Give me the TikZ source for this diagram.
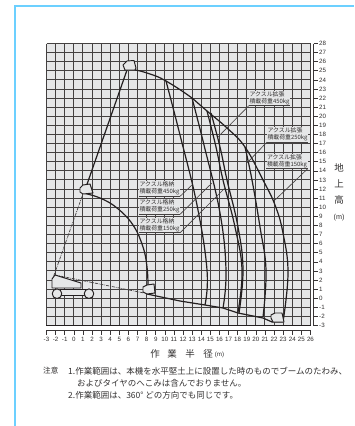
\documentclass[tikz,border=0pt]{standalone}
\usepackage{fontspec}
\setmainfont{Liberation Sans}
\newfontfamily\jpf{Noto Sans CJK JP}
\definecolor{framecol}{RGB}{108,208,255}
\definecolor{gridbg}{RGB}{230,231,232}
\definecolor{inkcol}{RGB}{35,31,32}
\definecolor{txtcol}{RGB}{50,48,48}
\tikzset{
  gridline/.style={draw=inkcol!85,line width=0.95pt},
  axisline/.style={draw=inkcol!90,line width=0.6pt},
  curve/.style={draw=inkcol,line width=1.2pt,line join=round},
  headshape/.style={draw=inkcol,line width=0.95pt,fill=gridbg,line join=round},
  leader/.style={draw=inkcol!85,line width=0.65pt},
  hatchline/.style={draw=inkcol!85,line width=0.7pt,dash pattern=on 3pt off 1pt on 0.8pt off 1pt},
  tagbox/.style={fill=gridbg,inner sep=0pt,minimum width=41pt,minimum height=15pt,text=txtcol,align=left,font=\jpf\fontsize{5.9}{7.2}\selectfont},
  xlab/.style={font=\fontsize{6.2}{7}\selectfont,text=txtcol,inner sep=0pt},
  ylab/.style={font=\fontsize{6.2}{7}\selectfont,text=txtcol,inner sep=0pt,anchor=west},
  unitlab/.style={font=\fontsize{7.2}{8}\selectfont,text=txtcol,inner sep=0pt},
  jptitle/.style={font=\jpf\fontsize{9.5}{10}\selectfont,text=txtcol,inner sep=0pt},
  notetext/.style={font=\jpf\fontsize{8.5}{10}\selectfont,text=txtcol,inner sep=0pt,anchor=west},
  fitcurve/.style={smooth,tension=0.7},
}
\begin{document}
\begin{tikzpicture}[x=1pt,y=-1pt]
\useasboundingbox (0,0) rectangle (354,426);
% frame
\draw[framecol,line width=1.6pt] (15,426) -- (15,6) -- (354,6);
% grid
\fill[gridbg] (46.5,43.5) rectangle (310.5,325.5);
\foreach \i in {0,...,29}{
  \pgfmathsetmacro{\xx}{46.5+\i*9.103}
  \draw[gridline] (\xx,43.5) -- (\xx,325.5);
}
\foreach \i in {0,...,31}{
  \pgfmathsetmacro{\yy}{43.5+\i*9.097}
  \draw[gridline] (46.5,\yy) -- (310.5,\yy);
}
\draw[draw=inkcol,line width=1.1pt] (46,325.5) -- (311,325.5);
% x axis
\draw[axisline] (46.5,330) -- (310.5,330);
\foreach \i in {0,...,29}{
  \pgfmathsetmacro{\xx}{46.5+\i*9.103}
  \pgfmathtruncatemacro{\lab}{\i-3}
  \draw[axisline] (\xx,330) -- (\xx,334.5);
  \node[xlab] (xl\i) at (\xx,339.5) {\lab};
}
% y axis
\draw[axisline] (313.5,43.5) -- (313.5,325.5);
\foreach \i in {0,...,31}{
  \pgfmathsetmacro{\yy}{43.5+\i*9.097}
  \pgfmathtruncatemacro{\lab}{28-\i}
  \draw[axisline] (313.5,\yy) -- (317.5,\yy);
  \node[ylab] (yl\i) at (319,\yy) {\lab};
}
% outer envelope
\draw[curve] plot[fitcurve] coordinates {(125,70) (133,69.5) (150,74) (166,81) (192,98) (207,111) (227,128) (245,147) (263,180) (275,205) (283,233) (288,273) (283,322)};
% working curves
\draw[curve] plot[fitcurve] coordinates {(166,81) (180,135) (197,205) (207,270) (205,305)};
\draw[curve] plot[fitcurve] coordinates {(192,98) (204,145) (220,213) (226,270) (223,308)};
\draw[curve] plot[fitcurve] coordinates {(207,111) (216,147) (223,180) (235,227) (242,270) (238,312)};
\draw[curve] plot[fitcurve] coordinates {(211,113) (220,147) (227,180) (238,227) (243,270) (239,313)};
\draw[curve] plot[fitcurve] coordinates {(245,147) (252,180) (260,227) (266,270) (263,317)};
% inner arc
\draw[curve] plot[fitcurve] coordinates {(83,193) (100,198) (117,208) (133,225) (143,247) (147,267) (148,285)};
% boom lines
\draw[curve] (127,70) -- (85,190);
\draw[hatchline] (84,191) -- (53,278);
\draw[hatchline] (55,275) -- (144,293);
\draw[curve] (147,294) -- (180,301) -- (205,305) -- (223,308) -- (238,313) -- (263,318) -- (272,322) -- (283,322);
% boom heads
\draw[headshape] (123,65) -- (127,61) -- (134,60.5) -- (136,68) -- (135,70) -- (125,70) -- cycle;
\draw[headshape] (80,188) -- (83,185) -- (90,184) -- (93,193) -- (83,194) -- (80,192) -- cycle;
\draw[headshape] (143,287) -- (147,285) -- (154,284) -- (155,293) -- (147,294) -- (143,292) -- cycle;
\draw[headshape] (271,315) -- (275,313) -- (282,313) -- (284,322) -- (273,322) -- (271,318) -- cycle;
% machine
\draw[headshape] (52,279) -- (55,275) -- (81,283) -- (81,288) -- (52,288) -- cycle;
\draw[headshape] (60,289) rectangle (86,295.5);
\draw[headshape] (57,293.7) circle (4.8);
\draw[headshape] (89,293.7) circle (4.8);
% leader ends
\coordinate (e1) at (218,137);
\coordinate (e2) at (247,163);
\coordinate (e3) at (275,200);
\coordinate (e4) at (192,185);
\coordinate (e5) at (212,183);
\coordinate (e6) at (225,188);
% tags
\node[tagbox] (t1) at (269.5,98) {アクスル拡張\\積載荷重450kg};
\node[tagbox] (t2) at (287.5,134.5) {アクスル拡張\\積載荷重250kg};
\node[tagbox] (t3) at (287,161) {アクスル拡張\\積載荷重150kg};
\node[tagbox] (t4) at (159.5,188.5) {アクスル格納\\積載荷重450kg};
\node[tagbox] (t5) at (159.5,206.5) {アクスル格納\\積載荷重250kg};
\node[tagbox] (t6) at (159.5,225) {アクスル格納\\積載荷重150kg};
\foreach \t in {t1,t2,t3,t4,t5,t6}{
  \draw[leader] (\t.south west) -- (\t.south east);
}
\draw[leader] (t1.south west) -- (e1);
\draw[leader] (t2.south west) -- (e2);
\draw[leader] (t3.south east) -- (e3);
\draw[leader] (t4.south east) -- (e4);
\draw[leader] (t5.south east) -- (e5);
\draw[leader] (t6.south east) -- (e6);
% side title
\node[jptitle] (s1) at (339,167.5) {地};
\node[jptitle] (s2) at (339,184) {上};
\node[jptitle] (s3) at (339,200) {高};
\node[unitlab] (s4) at (339,218) {(m)};
% bottom title
\node[jptitle] (b1) at (155,354) {作};
\node[jptitle] (b2) at (172,354) {業};
\node[jptitle] (b3) at (190,354) {半};
\node[jptitle] (b4) at (208,354) {径};
\node[xlab] (b5) at (219.5,355) {(m)};
% notes
\node[notetext,font=\jpf\fontsize{7.6}{10}\selectfont] (n0) at (43,371) {注意};
\node[notetext] (n1) at (68,371) {1.作業範囲は、本機を水平堅土上に設置した時のものでブームのたわみ、};
\node[notetext] (n2) at (77,383) {およびタイヤのへこみは含んでおりません。};
\node[notetext] (n3) at (68,395) {2.作業範囲は、360° どの方向でも同じです。};
\end{tikzpicture}
\end{document}
